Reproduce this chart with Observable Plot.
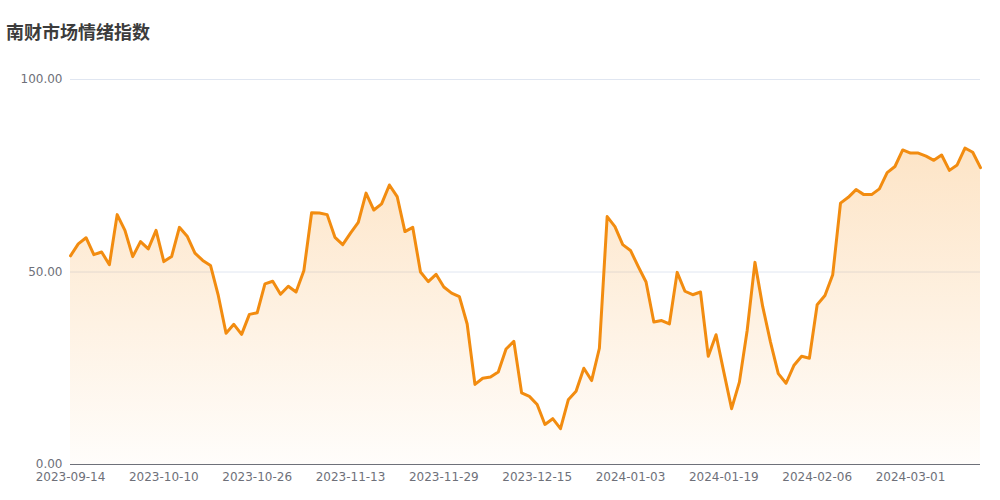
<!DOCTYPE html>
<html>
<head>
<meta charset="utf-8">
<script src="https://cdn.jsdelivr.net/npm/d3@7"></script>
<script src="https://cdn.jsdelivr.net/npm/@observablehq/plot@0.6"></script>
<style>
  body { margin: 0; background: #fff; }
  #title { height: 60px; box-sizing: border-box; padding: 20px 0 0 6px; font: bold 18px/22px "Noto Sans CJK SC", sans-serif; color: #3c3c3c; }
  svg { display: block; }
</style>
</head>
<body>
<div id="title">南财市场情绪指数</div>
<div id="chart"></div>
<script>
const dates = [
  "2023-09-14","2023-09-15","2023-09-18","2023-09-19","2023-09-20","2023-09-21","2023-09-22","2023-09-25","2023-09-26","2023-09-27","2023-09-28",
  "2023-10-09","2023-10-10","2023-10-11","2023-10-12","2023-10-13","2023-10-16","2023-10-17","2023-10-18","2023-10-19","2023-10-20","2023-10-23","2023-10-24","2023-10-25","2023-10-26","2023-10-27","2023-10-30","2023-10-31",
  "2023-11-01","2023-11-02","2023-11-03","2023-11-06","2023-11-07","2023-11-08","2023-11-09","2023-11-10","2023-11-13","2023-11-14","2023-11-15","2023-11-16","2023-11-17","2023-11-20","2023-11-21","2023-11-22","2023-11-23","2023-11-24","2023-11-27","2023-11-28","2023-11-29","2023-11-30",
  "2023-12-01","2023-12-04","2023-12-05","2023-12-06","2023-12-07","2023-12-08","2023-12-11","2023-12-12","2023-12-13","2023-12-14","2023-12-15","2023-12-18","2023-12-19","2023-12-20","2023-12-21","2023-12-22","2023-12-25","2023-12-26","2023-12-27","2023-12-28","2023-12-29",
  "2024-01-02","2024-01-03","2024-01-04","2024-01-05","2024-01-08","2024-01-09","2024-01-10","2024-01-11","2024-01-12","2024-01-15","2024-01-16","2024-01-17","2024-01-18","2024-01-19","2024-01-22","2024-01-23","2024-01-24","2024-01-25","2024-01-26","2024-01-29","2024-01-30","2024-01-31",
  "2024-02-01","2024-02-02","2024-02-05","2024-02-06","2024-02-07","2024-02-08","2024-02-19","2024-02-20","2024-02-21","2024-02-22","2024-02-23","2024-02-26","2024-02-27","2024-02-28","2024-02-29",
  "2024-03-01","2024-03-04","2024-03-05","2024-03-06","2024-03-07","2024-03-08","2024-03-11","2024-03-12","2024-03-13","2024-03-14"
];
const values = [
  54.2, 57.3, 58.9, 54.5, 55.2, 51.9, 64.9, 60.8, 54.0, 57.9, 56.0,
  60.8, 52.7, 54.0, 61.6, 59.3, 54.9, 53.0, 51.7, 43.9, 34.1, 36.4, 33.8, 39.0, 39.4, 46.9, 47.6, 44.2,
  46.3, 44.8, 50.3, 65.4, 65.3, 64.9, 59.0, 57.1, 60.1, 62.9, 70.5, 66.1, 67.7, 72.6, 69.6, 60.5, 61.6, 50.0, 47.5, 49.4, 46.1, 44.5,
  43.6, 36.5, 20.8, 22.4, 22.7, 24.0, 30.0, 32.0, 18.6, 17.7, 15.6, 10.4, 11.9, 9.3, 16.8, 19.0, 25.0, 21.8, 30.2, 64.4, 61.8,
  57.1, 55.6, 51.4, 47.4, 37.0, 37.4, 36.5, 49.9, 45.0, 44.1, 44.8, 28.1, 33.7, 24.0, 14.5, 21.4, 34.8, 52.5, 41.0, 31.8, 23.6, 21.1,
  25.7, 28.1, 27.6, 41.5, 43.9, 49.3, 67.9, 69.4, 71.4, 70.1, 70.1, 71.6, 75.8, 77.4, 81.7,
  80.9, 80.9, 80.1, 79.0, 80.4, 76.4, 77.8, 82.2, 81.1, 77.1
];
const yTicks = [0, 50, 100];
const xTickIdx = [0, 12, 24, 36, 48, 60, 72, 84, 96, 108];

const data = values.map((v, i) => ({i, date: dates[i], v}));

const gradient = () => {
  const defs = d3.create("svg:defs");
  const g = defs.append("linearGradient").attr("id", "areaGrad")
    .attr("x1", 0).attr("y1", 0).attr("x2", 0).attr("y2", 1);
  g.append("stop").attr("offset", "0%").attr("stop-color", "#f7941d").attr("stop-opacity", 0.25);
  g.append("stop").attr("offset", "100%").attr("stop-color", "#f7941d").attr("stop-opacity", 0.02);
  return defs.node();
};

const chart = Plot.plot({
  width: 1000,
  height: 440,
  marginTop: 19,
  marginBottom: 36,
  marginLeft: 70,
  marginRight: 20,
  style: {fontFamily: "DejaVu Sans, sans-serif", fontSize: "12px", color: "#6e7079", background: "#fff"},
  x: {domain: [0, values.length - 1], axis: null},
  y: {domain: [0, 100], axis: null},
  marks: [
    gradient,
    Plot.ruleY(yTicks.filter(d => d > 0), {stroke: "#e0e6f1", strokeWidth: 1}),
    Plot.areaY(data, {x: "i", y: "v", fill: "url(#areaGrad)", curve: "linear"}),
    Plot.ruleY([0], {stroke: "#6e7079", strokeWidth: 1}),
    Plot.lineY(data, {x: "i", y: "v", stroke: "#f28c10", strokeWidth: 3, curve: "linear", strokeLinejoin: "round"}),
    Plot.axisY(yTicks, {tickSize: 0, tickPadding: 8, tickFormat: d => d.toFixed(2), fill: "#6e7079", fontSize: 12, label: null}),
    Plot.axisX(xTickIdx, {tickSize: 0, tickPadding: 8, tickFormat: i => dates[i], fill: "#6e7079", fontSize: 12, label: null})
  ]
});
document.getElementById("chart").appendChild(chart);
</script>
</body>
</html>
